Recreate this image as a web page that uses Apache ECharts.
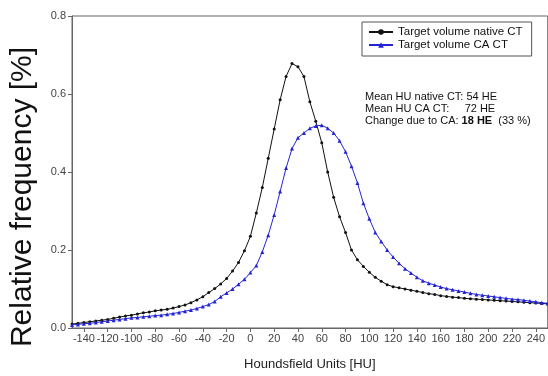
<!DOCTYPE html>
<html><head><meta charset="utf-8">
<script src="https://cdn.jsdelivr.net/npm/echarts@6/dist/echarts.min.js"></script>
<style>html,body{margin:0;padding:0;background:#fff}#c{width:548px;height:376px}</style>
</head><body><div id="c"></div>
<script>
const hu = [-150,-145,-140,-135,-130,-125,-120,-115,-110,-105,-100,-95,-90,-85,-80,-75,-70,-65,-60,-55,-50,-45,-40,-35,-30,-25,-20,-15,-10,-5,0,5,10,15,20,25,30,35,40,45,50,55,60,65,70,75,80,85,90,95,100,105,110,115,120,125,130,135,140,145,150,155,160,165,170,175,180,185,190,195,200,205,210,215,220,225,230,235,240,245,250];
const nativeCT = [0.010,0.012,0.014,0.016,0.018,0.020,0.022,0.025,0.028,0.031,0.033,0.036,0.039,0.041,0.044,0.046,0.048,0.051,0.055,0.059,0.065,0.072,0.080,0.091,0.101,0.113,0.127,0.146,0.168,0.198,0.235,0.295,0.360,0.435,0.510,0.585,0.645,0.678,0.670,0.645,0.580,0.530,0.475,0.400,0.335,0.285,0.245,0.200,0.175,0.158,0.143,0.130,0.120,0.111,0.106,0.103,0.100,0.097,0.094,0.091,0.088,0.086,0.083,0.081,0.079,0.078,0.076,0.075,0.074,0.073,0.072,0.071,0.070,0.069,0.068,0.067,0.066,0.065,0.064,0.063,0.062];
const caCT = [0.008,0.009,0.011,0.012,0.014,0.016,0.018,0.020,0.022,0.024,0.026,0.027,0.029,0.030,0.032,0.033,0.035,0.037,0.040,0.043,0.046,0.050,0.055,0.060,0.068,0.080,0.090,0.100,0.112,0.125,0.142,0.160,0.195,0.238,0.290,0.350,0.410,0.460,0.488,0.500,0.512,0.518,0.520,0.512,0.500,0.480,0.452,0.415,0.372,0.320,0.280,0.245,0.222,0.200,0.182,0.166,0.152,0.141,0.130,0.121,0.115,0.110,0.105,0.101,0.098,0.095,0.092,0.089,0.086,0.084,0.082,0.080,0.078,0.076,0.074,0.073,0.071,0.069,0.067,0.065,0.063];
const xTicks = [-140,-120,-100,-80,-60,-40,-20,0,20,40,60,80,100,120,140,160,180,200,220,240];
const seriesNames = ['Target volume native CT','Target volume CA CT'];
const notes = ['Mean HU native CT: 54 HE','Mean HU CA CT:     72 HE'];

const chart = echarts.init(document.getElementById('c'));
const axisCol = '#666';
chart.setOption({
  animation:false,
  textStyle:{fontFamily:'Liberation Sans, Arial, sans-serif'},
  grid:{left:72, top:16, right:-4, bottom:48, show:true, borderColor:axisCol, borderWidth:1},
  legend:{
    data:seriesNames, orient:'vertical', left:362, top:22,
    borderColor:'#555', borderWidth:1, borderRadius:0, padding:[4,9,5,6], itemGap:1,
    itemWidth:24, itemHeight:7,
    textStyle:{fontSize:11.5, color:'#111', fontFamily:'Liberation Sans, Arial, sans-serif'}
  },
  xAxis:{
    type:'value', min:-150, max:250,
    axisLine:{onZero:false, lineStyle:{color:axisCol}},
    axisTick:{show:true, length:4, customValues:xTicks, lineStyle:{color:axisCol}},
    axisLabel:{customValues:xTicks, color:'#444', fontSize:11, margin:5},
    splitLine:{show:false},
    name:'Houndsfield Units [HU]', nameLocation:'middle', nameGap:30,
    nameTextStyle:{fontSize:13, color:'#222'}
  },
  yAxis:{
    type:'value', min:0, max:0.8, interval:0.2,
    axisLine:{show:true, onZero:false, lineStyle:{color:axisCol}},
    axisTick:{show:true, length:4, lineStyle:{color:axisCol}},
    axisLabel:{color:'#444', fontSize:11, margin:6, formatter:v=>v.toFixed(1)},
    splitLine:{show:false}
  },
  graphic:[
    {type:'text', x:23, y:197, rotation:Math.PI/2,
     style:{text:'Relative frequency [%]', font:'30px "Liberation Sans", Arial, sans-serif', fill:'#111', textAlign:'center', textVerticalAlign:'middle'}},
    {type:'text', left:365, top:91,
     style:{rich:{n:{fontSize:11, fill:'#111', fontFamily:'Liberation Sans'}, b:{fontSize:11, fill:'#111', fontWeight:'bold', fontFamily:'Liberation Sans'}},
       text:'{n|'+notes[0]+'}\n{n|'+notes[1]+'}\n{n|Change due to CA: }{b|18 HE}{n|  (33 %)}', lineHeight:12}}
  ],
  series:[
    {name:seriesNames[0], type:'line', data:hu.map((h,i)=>[h,nativeCT[i]]),
     symbol:'circle', symbolSize:3, showAllSymbol:true, clip:true,
     lineStyle:{color:'#111', width:1}, itemStyle:{color:'#111'}},
    {name:seriesNames[1], type:'line', data:hu.map((h,i)=>[h,caCT[i]]),
     symbol:'triangle', symbolSize:4, showAllSymbol:true, clip:true,
     lineStyle:{color:'#2424d6', width:1}, itemStyle:{color:'#2424d6'}}
  ]
});
</script></body></html>
